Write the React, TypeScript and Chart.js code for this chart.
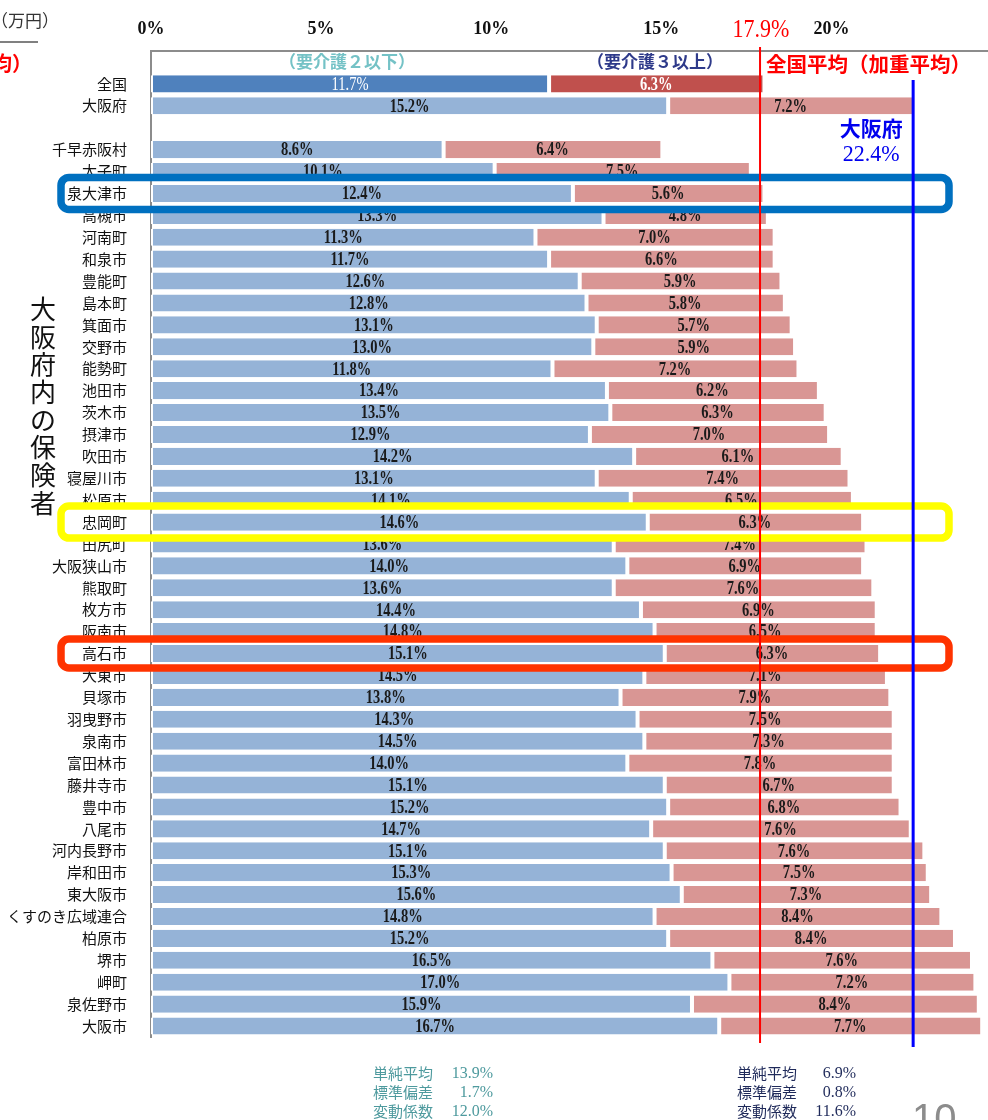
import { useEffect, useRef } from 'react';
import { Chart, registerables } from 'chart.js';

Chart.register(...registerables);

// Insurer names (row 0 and row 3 are spacer rows)
const categories = [
  '', '全国', '大阪府', '',
  '千早赤阪村', '太子町', '泉大津市', '高槻市', '河南町', '和泉市', '豊能町', '島本町',
  '箕面市', '交野市', '能勢町', '池田市', '茨木市', '摂津市', '吹田市', '寝屋川市',
  '松原市', '忠岡町', '田尻町', '大阪狭山市', '熊取町', '枚方市', '阪南市', '高石市',
  '大東市', '貝塚市', '羽曳野市', '泉南市', '富田林市', '藤井寺市', '豊中市', '八尾市',
  '河内長野市', '岸和田市', '東大阪市', 'くすのき広域連合', '柏原市', '堺市', '岬町',
  '泉佐野市', '大阪市',
];

// Share certified as 要介護2 or lower (%)
const careLevelUpTo2 = [
  null, 11.7, 15.2, null,
  8.6, 10.1, 12.4, 13.3, 11.3, 11.7, 12.6, 12.8,
  13.1, 13.0, 11.8, 13.4, 13.5, 12.9, 14.2, 13.1,
  14.1, 14.6, 13.6, 14.0, 13.6, 14.4, 14.8, 15.1,
  14.5, 13.8, 14.3, 14.5, 14.0, 15.1, 15.2, 14.7,
  15.1, 15.3, 15.6, 14.8, 15.2, 16.5, 17.0,
  15.9, 16.7,
];

// Share certified as 要介護3 or higher (%)
const careLevel3Plus = [
  null, 6.3, 7.2, null,
  6.4, 7.5, 5.6, 4.8, 7.0, 6.6, 5.9, 5.8,
  5.7, 5.9, 7.2, 6.2, 6.3, 7.0, 6.1, 7.4,
  6.5, 6.3, 7.4, 6.9, 7.6, 6.9, 6.5, 6.3,
  7.1, 7.9, 7.5, 7.3, 7.8, 6.7, 6.8, 7.6,
  7.6, 7.5, 7.3, 8.4, 8.4, 7.6, 7.2,
  8.4, 7.7,
];

const axisMax = 24.6;
const tickStep = 5;
const nationalAverage = 17.9;
const osakaAverage = 22.4;

const highlightRows = ['泉大津市', '忠岡町', '高石市'];
const highlightColors = ['#0070C0', '#FFFF00', '#FF3300'];

const statLabels = ['単純平均', '標準偏差', '変動係数'];
const lowerStatValues = ['13.9%', '1.7%', '12.0%'];
const upperStatValues = ['6.9%', '0.8%', '11.6%'];

const JP = '"Noto Sans CJK JP", "Noto Sans", sans-serif';
const SERIF = '"Liberation Serif", "DejaVu Serif", serif';

const NATIONAL_ROW = 1;
const colorsLower = categories.map((_, i) => (i === NATIONAL_ROW ? '#4F81BD' : '#95B3D7'));
const colorsUpper = categories.map((_, i) => (i === NATIONAL_ROW ? '#C0504D' : '#D99694'));

function drawText(
  ctx: CanvasRenderingContext2D,
  text: string,
  x: number,
  y: number,
  font: string,
  color: string,
  align: CanvasTextAlign = 'center',
  scaleY = 1,
) {
  ctx.save();
  ctx.font = font;
  ctx.fillStyle = color;
  ctx.textAlign = align;
  ctx.textBaseline = 'middle';
  ctx.translate(x, y);
  ctx.scale(1, scaleY);
  ctx.fillText(text, 0, 0);
  ctx.restore();
}

const valueLabels = {
  id: 'valueLabels',
  afterDatasetsDraw(chart: any) {
    const ctx = chart.ctx as CanvasRenderingContext2D;
    chart.data.datasets.forEach((ds: any, di: number) => {
      const meta = chart.getDatasetMeta(di);
      meta.data.forEach((bar: any, i: number) => {
        const v = ds.data[i];
        if (v == null) return;
        const { x, base, y } = bar.getProps(['x', 'base', 'y'], true);
        const cx = (x + base) / 2;
        const isNational = i === NATIONAL_ROW;
        const weight = isNational && di === 0 ? 'normal' : 'bold';
        const color = isNational ? '#FFFFFF' : '#1A1A1A';
        drawText(ctx, v.toFixed(1) + '%', cx, y + 1, `${weight} 14.5px ${SERIF}`, color, 'center', 1.28);
      });
    });
  },
};

const overlay = {
  id: 'overlay',
  afterDraw(chart: any) {
    const ctx = chart.ctx as CanvasRenderingContext2D;
    const xs = chart.scales.x;
    const ys = chart.scales.y;

    // Highlighted insurers
    highlightRows.forEach((name, k) => {
      const idx = categories.indexOf(name);
      const cy = ys.getPixelForValue(idx);
      const half = k === 2 ? 14.5 : 16;
      ctx.save();
      ctx.strokeStyle = highlightColors[k];
      ctx.lineWidth = 7.5;
      ctx.beginPath();
      (ctx as any).roundRect(61, cy - half, 888, half * 2, 8);
      ctx.stroke();
      ctx.restore();
    });

    // Reference lines
    const xn = xs.getPixelForValue(nationalAverage);
    const xo = xs.getPixelForValue(osakaAverage);
    ctx.save();
    ctx.strokeStyle = '#FF0000';
    ctx.lineWidth = 2;
    ctx.beginPath();
    ctx.moveTo(xn, 47);
    ctx.lineTo(xn, 1043);
    ctx.stroke();
    ctx.strokeStyle = '#0000FF';
    ctx.lineWidth = 3;
    ctx.beginPath();
    ctx.moveTo(xo, 80);
    ctx.lineTo(xo, 1047);
    ctx.stroke();
    ctx.restore();

    drawText(ctx, nationalAverage.toFixed(1) + '%', xn + 1, 31, `normal 22px ${SERIF}`, '#FF0000', 'center', 1.1);
    drawText(ctx, '全国平均（加重平均）', xn + 6, 64, `bold 20.5px ${JP}`, '#FF0000', 'left');
    drawText(ctx, '大阪府', xo - 42, 128, `bold 21px ${JP}`, '#0000EE', 'center');
    drawText(ctx, osakaAverage.toFixed(1) + '%', xo - 42, 155, `normal 22px ${SERIF}`, '#0000EE', 'center', 1.05);

    // Series captions
    drawText(ctx, '（要介護２以下）', 347, 62, `bold 17px ${JP}`, '#74C2C6', 'center');
    drawText(ctx, '（要介護３以上）', 655, 62, `bold 17px ${JP}`, '#2E3A8A', 'center');

    // Fragments on the left edge
    drawText(ctx, '（万円）', 59, 21, `normal 17px ${JP}`, '#333333', 'right');
    ctx.save();
    ctx.strokeStyle = '#808080';
    ctx.lineWidth = 2;
    ctx.beginPath();
    ctx.moveTo(0, 42);
    ctx.lineTo(38, 42);
    ctx.stroke();
    ctx.restore();
    drawText(ctx, '（加重平均）', 32, 63, `bold 20px ${JP}`, '#FF0000', 'right');

    // Vertical axis caption
    const caption = '大阪府内の保険者';
    Array.from(caption).forEach((ch, i) => {
      drawText(ctx, ch, 43, 309 + i * 27.7, `normal 26px ${JP}`, '#111111', 'center');
    });

    // Summary statistics
    statLabels.forEach((label, i) => {
      const y = 1073 + i * 19;
      drawText(ctx, label, 373, y, `normal 15px ${JP}`, '#4E9A9E', 'left');
      drawText(ctx, lowerStatValues[i], 493, y, `normal 16px ${SERIF}`, '#4E9A9E', 'right', 1.1);
      drawText(ctx, label, 737, y, `normal 15px ${JP}`, '#1F2A5A', 'left');
      drawText(ctx, upperStatValues[i], 856, y, `normal 16px ${SERIF}`, '#1F2A5A', 'right', 1.1);
    });

    // Page number
    ctx.save();
    ctx.font = `normal 40px "Liberation Sans", sans-serif`;
    ctx.fillStyle = '#8C8C8C';
    ctx.textAlign = 'left';
    ctx.textBaseline = 'alphabetic';
    ctx.fillText('10', 912, 1132);
    ctx.restore();
  },
};

export default function App() {
  const canvasRef = useRef<HTMLCanvasElement | null>(null);

  useEffect(() => {
    if (!canvasRef.current) return;
    const chart = new Chart(canvasRef.current, {
      type: 'bar',
      data: {
        labels: categories,
        datasets: [
          {
            label: '要介護２以下',
            data: careLevelUpTo2 as any,
            backgroundColor: colorsLower,
            borderColor: '#FFFFFF',
            borderWidth: { left: 2, right: 2, top: 0, bottom: 0 },
            borderSkipped: false,
            barPercentage: 0.78,
            categoryPercentage: 1,
          },
          {
            label: '要介護３以上',
            data: careLevel3Plus as any,
            backgroundColor: colorsUpper,
            borderColor: '#FFFFFF',
            borderWidth: { left: 2, right: 1, top: 0, bottom: 0 },
            borderSkipped: false,
            barPercentage: 0.78,
            categoryPercentage: 1,
          },
        ],
      },
      options: {
        indexAxis: 'y',
        animation: false,
        responsive: false,
        maintainAspectRatio: false,
        layout: { autoPadding: false, padding: { top: 0, left: 0, right: 0, bottom: 83 } },
        plugins: {
          legend: { display: false },
          tooltip: { enabled: false },
        },
        scales: {
          x: {
            position: 'top',
            stacked: true,
            min: 0,
            max: axisMax,
            grid: { display: false },
            border: { display: true, color: '#8C8C8C', width: 2 },
            ticks: {
              stepSize: tickStep,
              padding: 3,
              color: '#111111',
              font: { family: SERIF, size: 18, weight: 'bold' },
              callback: (v: any) => (Number(v) % tickStep === 0 ? `${v}%` : ''),
            },
            afterFit: (scale: any) => {
              scale.height = 51;
              scale.paddingLeft = 0;
              scale.paddingRight = 0;
            },
          },
          y: {
            stacked: true,
            grid: { display: false },
            border: { display: true, color: '#8C8C8C', width: 2 },
            ticks: {
              autoSkip: false,
              padding: 16,
              color: '#111111',
              font: { family: JP, size: 15 },
            },
            afterFit: (scale: any) => {
              scale.width = 151;
              scale.paddingTop = 0;
              scale.paddingBottom = 0;
            },
          },
        },
      },
      plugins: [valueLabels, overlay],
    } as any);
    return () => chart.destroy();
  }, []);

  return (
    <div style={{ position: 'absolute', left: 0, top: 0, width: 988, height: 1120, background: '#FFFFFF' }}>
      <canvas ref={canvasRef} width={988} height={1120} />
    </div>
  );
}
